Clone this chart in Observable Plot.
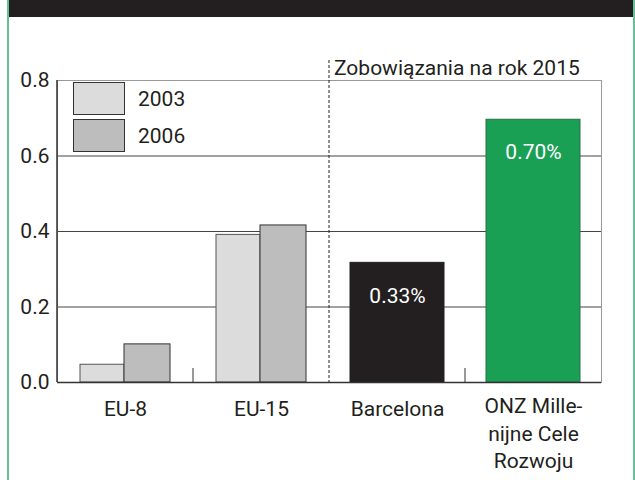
<!DOCTYPE html>
<html><head><meta charset="utf-8">
<script src="https://cdn.jsdelivr.net/npm/d3@7"></script>
<script src="https://cdn.jsdelivr.net/npm/@observablehq/plot@0.6"></script>
<style>
body{margin:0;background:#fff;}
#wrap{position:relative;width:635px;height:480px;overflow:hidden;font-family:Roboto,sans-serif;background:#fff;}
#header{position:absolute;left:8px;top:0;width:627px;height:17px;background:#231f20;}
.vborder{position:absolute;top:0;width:2px;height:480px;background:#63c397;}
#legend{position:absolute;left:73px;top:82px;}
.item{position:relative;height:37px;}
.sw{position:absolute;left:0;top:0;width:50px;height:31px;border:1px solid #333;}
.lab{position:absolute;left:65px;top:5px;font-size:21px;line-height:24px;color:#231f20;}
#chart{position:absolute;left:0;top:0;}
</style>
</head><body>
<div id="wrap">
  <div id="chart"></div>
  <div id="header"></div>
  <div class="vborder" style="left:7px"></div>
  <div class="vborder" style="left:633px"></div>
  <div id="legend"></div>
</div>
<script>
// ---- data ----
const categories = ["EU-8", "EU-15", "Barcelona", "ONZ"];
const categoryLabels = ["EU-8", "EU-15", "Barcelona", "ONZ Mille-\nnijne Cele\nRozwoju"];
const years = ["2003", "2006"];
const groupCategories = ["EU-8", "EU-15"];
const values2003 = [0.047, 0.391];
const values2006 = [0.101, 0.416];
const commitmentCategories = ["Barcelona", "ONZ"];
const commitmentValues = [0.317, 0.696];
const commitmentLabels = ["0.33%", "0.70%"];
const yTicks = [0, 0.2, 0.4, 0.6, 0.8];
const annotationText = "Zobowiązania na rok 2015";
const annotationStart = "Barcelona";

const yearColors = ["#dcdcdc", "#bdbdbd"];
const commitmentColors = ["#231f20", "#1aa055"];

// ---- derived tables ----
const rows2003 = groupCategories.map((c, i) => ({category: c, value: values2003[i]}));
const rows2006 = groupCategories.map((c, i) => ({category: c, value: values2006[i]}));
const commitRows = commitmentCategories.map((c, i) => ({category: c, value: commitmentValues[i], label: commitmentLabels[i], color: commitmentColors[i]}));
const labelRows = categories.map((c, i) => ({category: c, label: categoryLabels[i]}));

function separators(index, scales, values, dims) {
  const x = scales.x, y = scales.y;
  const bw = x.bandwidth ? x.bandwidth() : 0;
  const step = x(categories[1]) - x(categories[0]);
  const gap = (step - bw) / 2;
  const y0 = y(0);
  const g = d3.create("svg:g");
  g.append("line")
    .attr("x1", dims.marginLeft).attr("x2", dims.marginLeft)
    .attr("y1", y(yTicks[yTicks.length - 1])).attr("y2", y0)
    .attr("stroke", "#333").attr("stroke-width", 1.5);
  for (let i = 1; i < categories.length; i++) {
    const bx = x(categories[i]) - gap;
    if (categories[i] === annotationStart) {
      g.append("line")
        .attr("x1", bx).attr("x2", bx)
        .attr("y1", dims.marginTop - 20).attr("y2", y0)
        .attr("stroke", "#231f20").attr("stroke-width", 1)
        .attr("stroke-dasharray", "3,2");
      g.append("text")
        .attr("x", bx + 5).attr("y", dims.marginTop - 5)
        .attr("fill", "#231f20")
        .attr("text-anchor", "start")
        .attr("font-size", 21)
        .text(annotationText);
    } else {
      g.append("line")
        .attr("x1", bx).attr("x2", bx)
        .attr("y1", y0 - 14).attr("y2", y0)
        .attr("stroke", "#333").attr("stroke-width", 1);
    }
  }
  return g.node();
}

const plot = Plot.plot({
  width: 635,
  height: 480,
  marginLeft: 57,
  marginRight: 34,
  marginTop: 80,
  marginBottom: 98,
  style: {fontFamily: "Roboto, sans-serif", fontSize: "21px", color: "#231f20", background: "transparent", overflow: "visible"},
  x: {domain: categories, paddingInner: 0.309, paddingOuter: 0.1545, axis: null},
  y: {domain: [0, 0.8], axis: null},
  marks: [
    Plot.ruleY(yTicks.filter(d => d > 0 && d < 0.8), {stroke: "#444", strokeWidth: 1}),
    Plot.frame({stroke: "#999"}),
    Plot.axisY({ticks: yTicks, tickSize: 0, tickPadding: 8, tickFormat: d3.format(".1f"), label: null, fill: "#231f20"}),
    Plot.barY(rows2003, {x: "category", y: "value", fill: yearColors[0], stroke: "#555", insetLeft: 2, insetRight: 48}),
    Plot.barY(rows2006, {x: "category", y: "value", fill: yearColors[1], stroke: "#333", insetLeft: 46, insetRight: 2}),
    Plot.barY(commitRows, {x: "category", y: "value", fill: "color", stroke: d => d.category === "ONZ" ? "#2b6e45" : "#231f20"}),
    Plot.text(commitRows, {x: "category", y: "value", text: "label", fill: "white", dy: 33, lineAnchor: "middle", fontSize: 21}),
    Plot.ruleY([0], {stroke: "#333", strokeWidth: 1.5}),
    separators,
    Plot.text(labelRows.filter(d => !d.label.includes("\n")), {x: "category", text: "label", frameAnchor: "bottom", lineAnchor: "top", dy: 19, fill: "#231f20", fontSize: 21}),
    Plot.text(labelRows.filter(d => d.label.includes("\n")), {x: "category", text: "label", frameAnchor: "bottom", lineAnchor: "top", dy: 11, lineHeight: 1.31, fill: "#231f20", fontSize: 21})
  ]
});
document.getElementById("chart").appendChild(plot);

// legend
const legend = document.getElementById("legend");
years.forEach((yr, i) => {
  const item = document.createElement("div");
  item.className = "item";
  const sw = document.createElement("div");
  sw.className = "sw";
  sw.style.background = yearColors[i];
  const lab = document.createElement("div");
  lab.className = "lab";
  lab.textContent = yr;
  item.appendChild(sw);
  item.appendChild(lab);
  legend.appendChild(item);
});
</script>
</body></html>
